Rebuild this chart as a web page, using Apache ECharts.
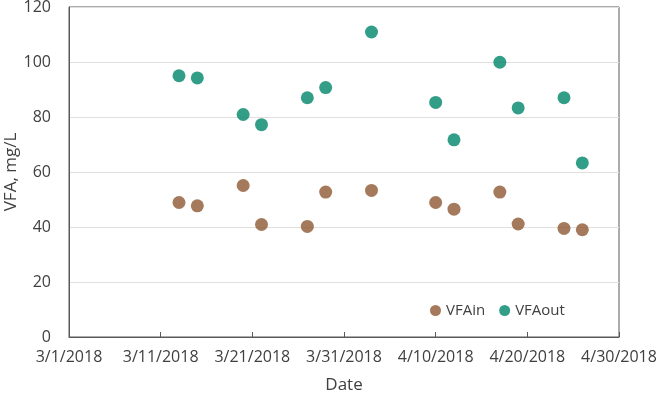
<!DOCTYPE html>
<html>
<head>
<meta charset="utf-8">
<script src="https://cdn.jsdelivr.net/npm/echarts@6/dist/echarts.min.js"></script>
<style>
  html, body { margin: 0; padding: 0; background: #fff; }
  #main { width: 661px; height: 397px; }
</style>
</head>
<body>
<div id="main"></div>
<script>
  // sample dates (m/d/yyyy) and VFA readings, mg/L
  var dates = ['3/13/2018', '3/15/2018', '3/20/2018', '3/22/2018', '3/27/2018', '3/29/2018', '4/3/2018',
    '4/10/2018', '4/12/2018', '4/17/2018', '4/19/2018', '4/24/2018', '4/26/2018'];
  var vfaIn = [48.9, 47.7, 55.1, 40.9, 40.2, 52.7, 53.3, 48.9, 46.5, 52.7, 41.1, 39.5, 39.0];
  var vfaOut = [95.0, 94.2, 80.9, 77.2, 87.0, 90.7, 110.9, 85.3, 71.7, 99.9, 83.3, 87.0, 63.3];
  var xStart = '3/1/2018';
  var xEnd = '4/30/2018';

  var DAY = 86400000;
  function toUTC(s) {
    var p = s.split('/');
    return Date.UTC(+p[2], +p[0] - 1, +p[1]);
  }
  var t0 = toUTC(xStart);
  function dayOf(s) {
    return Math.round((toUTC(s) - t0) / DAY);
  }
  function dayLabel(v) {
    var d = new Date(t0 + v * DAY);
    return (d.getUTCMonth() + 1) + '/' + d.getUTCDate() + '/' + d.getUTCFullYear();
  }
  function pairs(vals) {
    return dates.map(function (d, i) { return [dayOf(d), vals[i]]; });
  }

  var font = '"Open Sans", "DejaVu Sans", sans-serif';
  var chart = echarts.init(document.getElementById('main'));
  chart.setOption({
    animation: false,
    textStyle: { fontFamily: font },
    grid: {
      left: 69, right: 42, top: 7, bottom: 60,
      containLabel: false,
      outerBoundsMode: 'none',
      show: true, borderColor: '#595959', borderWidth: 1
    },
    legend: {
      data: ['VFAin', 'VFAout'],
      left: 425, top: 298,
      icon: 'circle',
      itemWidth: 11, itemHeight: 11, itemGap: 14,
      textStyle: { fontSize: 15, color: '#404040', fontFamily: font }
    },
    xAxis: {
      type: 'value',
      min: 0,
      max: dayOf(xEnd),
      interval: 10,
      name: 'Date',
      nameLocation: 'middle',
      nameGap: 40,
      nameMoveOverlap: false,
      nameTextStyle: { fontSize: 17, color: '#404040', verticalAlign: 'top' },
      axisLine: { show: true, lineStyle: { color: '#595959', width: 1 } },
      axisTick: { show: true, inside: true, length: 5, lineStyle: { color: '#595959' } },
      splitLine: { show: false },
      axisLabel: {
        fontSize: 16, color: '#404040', margin: 12,
        formatter: dayLabel
      }
    },
    yAxis: {
      type: 'value',
      min: 0, max: 120, interval: 20,
      name: 'VFA, mg/L',
      nameLocation: 'middle',
      nameRotate: 90,
      nameGap: 49,
      nameMoveOverlap: false,
      nameTextStyle: { fontSize: 17, color: '#404040' },
      axisLine: { show: true, lineStyle: { color: '#595959', width: 1 } },
      axisTick: { show: false },
      splitLine: { lineStyle: { color: '#e2dede', width: 1 } },
      axisLabel: { fontSize: 16, color: '#404040', margin: 18 }
    },
    series: [{
      name: 'VFAin',
      type: 'scatter',
      symbolSize: 13,
      itemStyle: { color: '#8f5732' },
      data: pairs(vfaIn)
    }, {
      name: 'VFAout',
      type: 'scatter',
      symbolSize: 13,
      itemStyle: { color: '#00866a' },
      data: pairs(vfaOut)
    }]
  });
</script>
</body>
</html>
